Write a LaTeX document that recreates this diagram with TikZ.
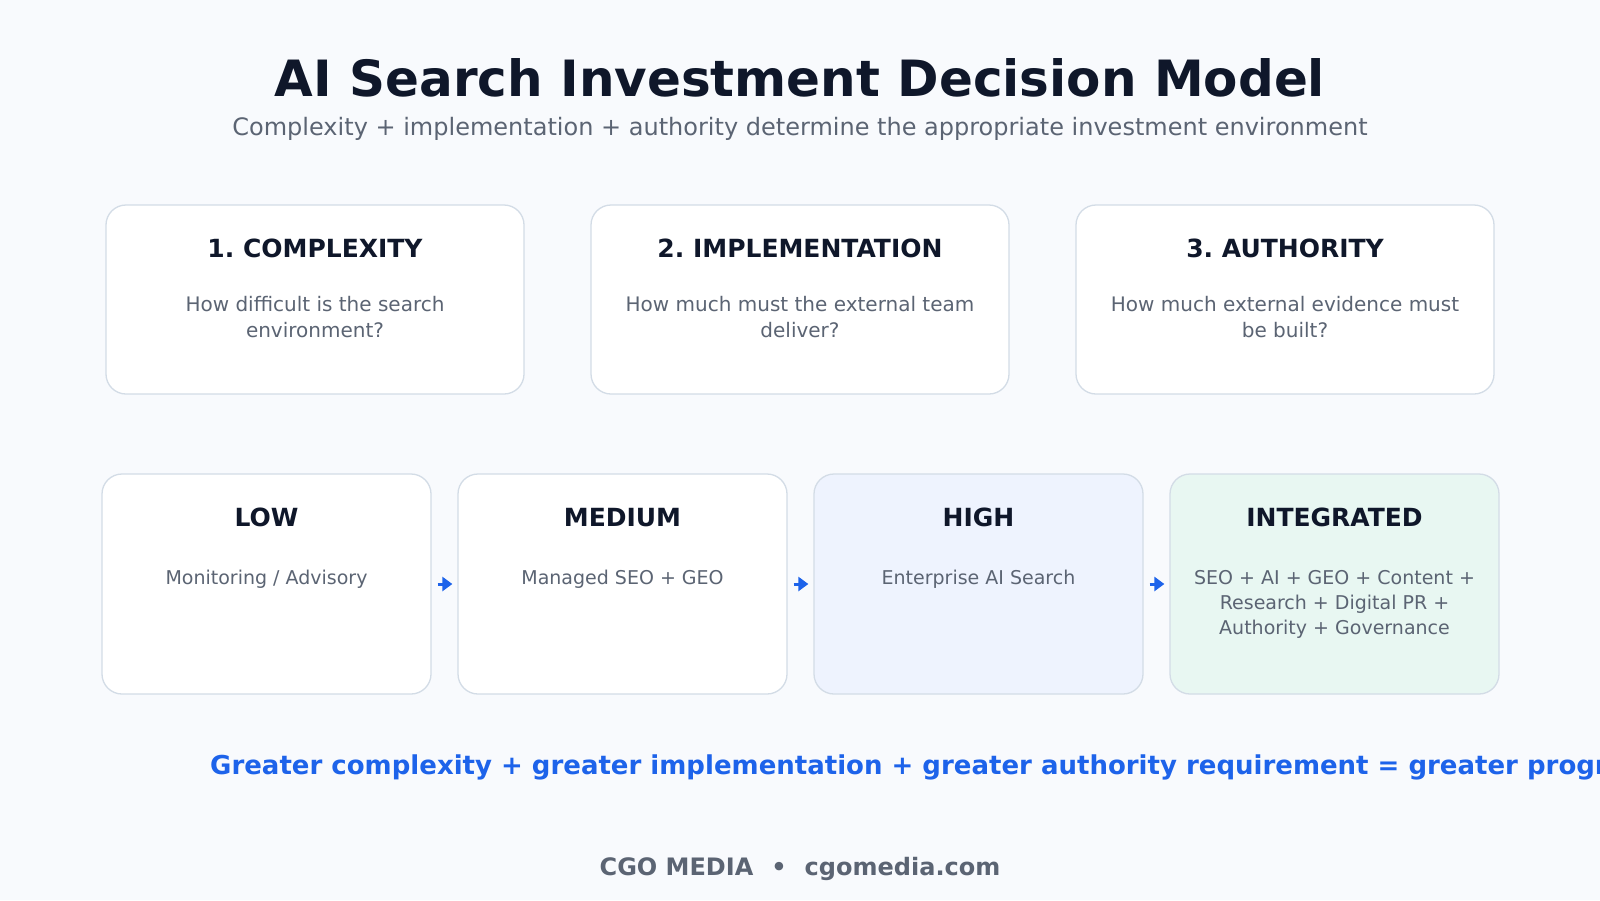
\documentclass[tikz,border=0pt]{standalone}
\usepackage{fontspec}
\setmainfont{DejaVu Sans}
\usetikzlibrary{arrows.meta, positioning, calc}
\frenchspacing
\definecolor{bgPage}{HTML}{F8FAFD}
\definecolor{inkDark}{HTML}{0F172A}
\definecolor{inkGray}{HTML}{5B6473}
\definecolor{edgeGray}{HTML}{D3DCE6}
\definecolor{mBlue}{HTML}{1D63EA}
\definecolor{fillHigh}{HTML}{EEF3FE}
\definecolor{fillInt}{HTML}{E8F7F2}

\tikzset{
  card/.style={draw=edgeGray, line width=1.3pt, rounded corners=20pt, fill=white, inner sep=0pt},
  factor/.style={card, minimum width=418pt, minimum height=189pt},
  tier/.style={card, minimum width=329pt, minimum height=220pt},
  heading/.style={font=\fontsize{25}{29}\selectfont\bfseries, text=inkDark, inner sep=0pt},
  desc/.style={font=\fontsize{20}{25.5}\selectfont, text=inkGray, align=center, inner sep=0pt},
  tierdesc/.style={desc, font=\fontsize{19}{25}\selectfont},
  flow/.style={draw=mBlue, line width=3pt, -{Triangle[length=10pt,width=14pt]}, shorten <=6pt, shorten >=5pt}
}

\begin{document}
\begin{tikzpicture}[x=1pt, y=-1pt]
  \useasboundingbox (0,0) rectangle (1600,900);
  \fill[bgPage] (0,0) rectangle (1600,900);

  % title block
  \node[font=\fontsize{50}{58}\selectfont\bfseries, text=inkDark] (title) at (800,78) {AI Search Investment Decision Model};
  \node[font=\fontsize{24}{28}\selectfont, text=inkGray] (subtitle) at (800,129) {Complexity + implementation + authority determine the appropriate investment environment};

  % three factors
  \foreach \name/\head/\txt [count=\i from 0] in {
      cplx/1. COMPLEXITY/{How difficult is the search\\environment?},
      impl/2. IMPLEMENTATION/{How much must the external team\\deliver?},
      auth/3. AUTHORITY/{How much external evidence must\\be built?}} {
    \node[factor] (\name) at (315+\i*485,299.5) {};
    \node[heading] at ($(\name.north)+(0,44)$) {\head};
    \node[desc, anchor=north] at ($(\name.north)+(0,92)$) {\txt};
  }

  % investment tiers
  \foreach \name/\head/\txt/\fillc [count=\i from 0] in {
      low/LOW/{Monitoring / Advisory}/white,
      med/MEDIUM/{Managed SEO + GEO}/white,
      high/HIGH/{Enterprise AI Search}/fillHigh,
      intg/INTEGRATED/{SEO + AI + GEO + Content +\\Research + Digital PR +\\Authority + Governance}/fillInt} {
    \node[tier, fill=\fillc] (\name) at (266.5+\i*356,584) {};
    \node[heading] at ($(\name.north)+(0,44)$) {\head};
    \node[tierdesc, anchor=north] at ($(\name.north)+(0,97)$) {\txt};
  }

  \draw[flow] (low.east) -- (med.west);
  \draw[flow] (med.east) -- (high.west);
  \draw[flow] (high.east) -- (intg.west);

  % summary line, runs past the page edge
  \begin{scope}
    \clip (0,0) rectangle (1600,900);
    \node[font=\fontsize{26}{30}\selectfont\bfseries, text=mBlue, anchor=west, inner sep=0pt] (summary) at (210,767)
      {Greater complexity + greater implementation + greater authority requirement = greater program};
  \end{scope}

  % footer
  \node[font=\fontsize{24}{28}\selectfont\bfseries, text=inkGray] (footer) at (800,869) {CGO MEDIA\hspace{0.75em}•\hspace{0.75em}cgomedia.com};
\end{tikzpicture}
\end{document}
